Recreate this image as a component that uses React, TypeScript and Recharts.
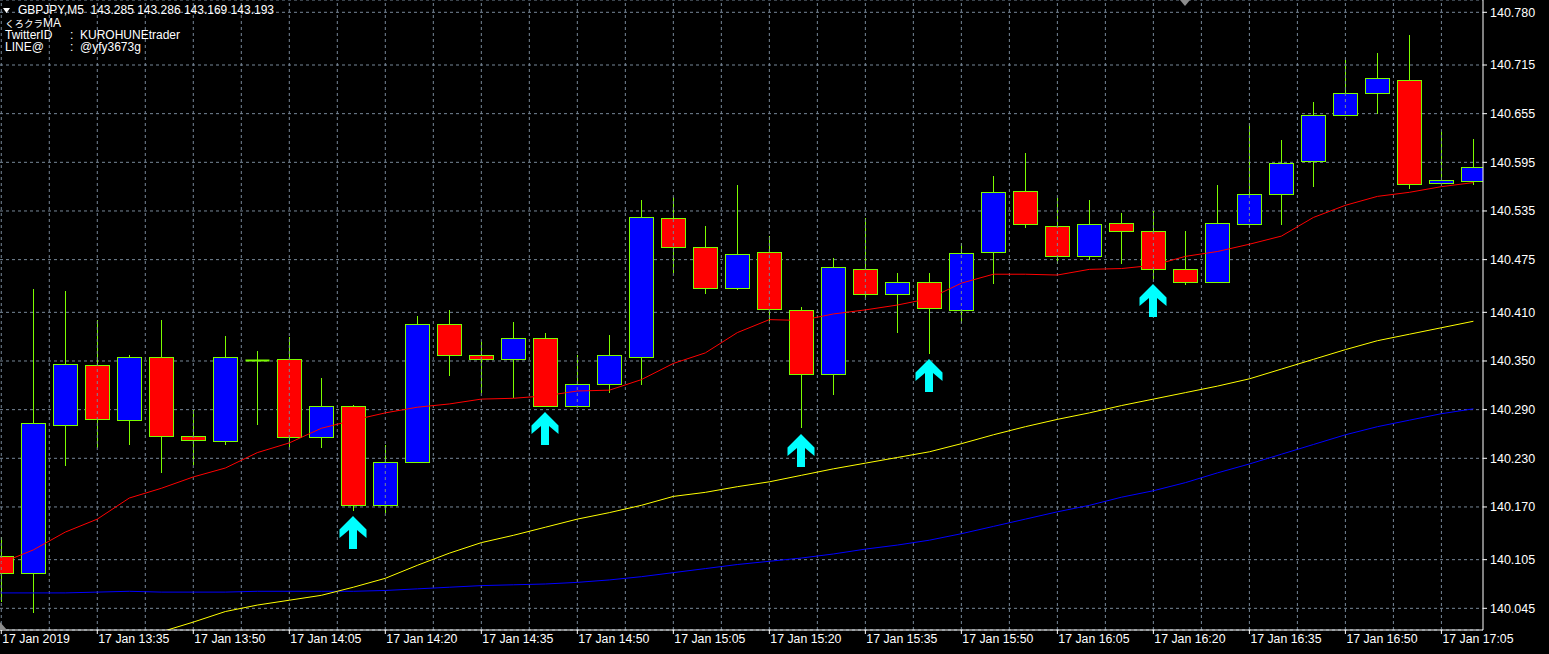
import React from "react";
import { ComposedChart, XAxis, YAxis, CartesianGrid, Line, Bar, Scatter, ReferenceLine } from "recharts";

// GBPJPY M5 candles, 17 Jan 2019 13:20 .. 17:10
const opens = [
  140.110, 140.089, 140.271, 140.345, 140.277, 140.355, 140.257, 140.251, 140.351, 140.353,
  140.256, 140.294, 140.172, 140.226, 140.395, 140.358, 140.352, 140.378, 140.294, 140.322,
  140.355, 140.526, 140.490, 140.440, 140.484, 140.413, 140.334, 140.464, 140.432, 140.448,
  140.413, 140.484, 140.560, 140.517, 140.480, 140.520, 140.510, 140.463, 140.448, 140.519,
  140.556, 140.597, 140.653, 140.680, 140.697, 140.570, 140.572,
];
const highs = [
  140.133, 140.439, 140.436, 140.401, 140.357, 140.401, 140.290, 140.381, 140.362, 140.379,
  140.329, 140.296, 140.246, 140.405, 140.413, 140.373, 140.398, 140.384, 140.357, 140.382,
  140.548, 140.552, 140.516, 140.567, 140.504, 140.417, 140.477, 140.526, 140.458, 140.459,
  140.495, 140.578, 140.606, 140.551, 140.548, 140.533, 140.535, 140.510, 140.567, 140.643,
  140.623, 140.669, 140.721, 140.730, 140.752, 140.632, 140.624,
];
const lows = [
  140.053, 140.039, 140.221, 140.243, 140.247, 140.212, 140.222, 140.246, 140.271, 140.244,
  140.243, 140.165, 140.163, 140.225, 140.331, 140.310, 140.304, 140.293, 140.293, 140.311,
  140.321, 140.458, 140.432, 140.438, 140.399, 140.267, 140.308, 140.428, 140.385, 140.359,
  140.397, 140.445, 140.514, 140.470, 140.475, 140.470, 140.451, 140.444, 140.447, 140.515,
  140.518, 140.564, 140.653, 140.654, 140.562, 140.570, 140.567,
];
const closes = [
  140.089, 140.274, 140.346, 140.279, 140.355, 140.257, 140.253, 140.355, 140.351, 140.256,
  140.295, 140.173, 140.225, 140.395, 140.358, 140.353, 140.378, 140.294, 140.322, 140.357,
  140.527, 140.490, 140.440, 140.482, 140.414, 140.334, 140.466, 140.432, 140.448, 140.415,
  140.483, 140.559, 140.519, 140.480, 140.519, 140.510, 140.464, 140.448, 140.520, 140.556,
  140.594, 140.653, 140.681, 140.699, 140.568, 140.573, 140.589,
];

// moving averages (red / yellow / blue)
const maFast = [
  140.101, 140.117, 140.139, 140.155, 140.181, 140.193, 140.207, 140.218, 140.237, 140.249,
  140.267, 140.277, 140.286, 140.293, 140.297, 140.303, 140.304, 140.307, 140.313, 140.314,
  140.327, 140.347, 140.360, 140.385, 140.401, 140.400, 140.408, 140.413, 140.419, 140.427,
  140.446, 140.457, 140.457, 140.456, 140.463, 140.464, 140.468, 140.479, 140.485, 140.494,
  140.504, 140.527, 140.542, 140.553, 140.558, 140.565, 140.570,
];
const maMid = [
  null, null, null, null, 140.005, 140.016, 140.028, 140.041, 140.049, 140.055,
  140.061, 140.071, 140.082, 140.098, 140.113, 140.126, 140.135, 140.145, 140.155, 140.163,
  140.172, 140.183, 140.188, 140.195, 140.201, 140.209, 140.217, 140.224, 140.231, 140.238,
  140.248, 140.259, 140.269, 140.278, 140.286, 140.295, 140.303, 140.311, 140.319, 140.328,
  140.340, 140.352, 140.364, 140.375, 140.383, 140.391, 140.399,
];
const maSlow = [
  140.064, 140.064, 140.064, 140.065, 140.066, 140.065, 140.065, 140.065, 140.066, 140.066,
  140.066, 140.066, 140.067, 140.069, 140.071, 140.073, 140.074, 140.075, 140.077, 140.080,
  140.084, 140.089, 140.094, 140.099, 140.103, 140.107, 140.112, 140.118, 140.123, 140.129,
  140.137, 140.146, 140.155, 140.164, 140.172, 140.182, 140.190, 140.200, 140.212, 140.223,
  140.235, 140.247, 140.259, 140.269, 140.277, 140.285, 140.291,
];

// signal arrows
const arrowIdx = [11, 17, 25, 29, 36];
const arrowPrice = [140.159, 140.287, 140.260, 140.352, 140.445];

// axes
const timeTicks = [0, 3, 6, 9, 12, 15, 18, 21, 24, 27, 30, 33, 36, 39, 42, 45];
const timeLabels = [
  "17 Jan 2019", "17 Jan 13:35", "17 Jan 13:50", "17 Jan 14:05", "17 Jan 14:20", "17 Jan 14:35",
  "17 Jan 14:50", "17 Jan 15:05", "17 Jan 15:20", "17 Jan 15:35", "17 Jan 15:50", "17 Jan 16:05",
  "17 Jan 16:20", "17 Jan 16:35", "17 Jan 16:50", "17 Jan 17:05",
];
const priceTicks = [
  140.045, 140.105, 140.17, 140.23, 140.29, 140.35, 140.41, 140.475, 140.535, 140.595, 140.655, 140.715, 140.78,
];
const gridX = [
  0, 1.5, 3, 4.5, 6, 7.5, 9, 10.5, 12, 13.5, 15, 16.5, 18, 19.5, 21, 22.5, 24, 25.5, 27, 28.5,
  30, 31.5, 33, 34.5, 36, 37.5, 39, 40.5, 42, 43.5, 45,
];

const rows = opens.map((o, i) => ({
  i,
  open: o,
  high: highs[i],
  low: lows[i],
  close: closes[i],
  maFast: maFast[i],
  maMid: maMid[i],
  maSlow: maSlow[i],
}));
const arrows = arrowIdx.map((i, k) => ({ i, price: arrowPrice[k] }));

const GREEN = "#7CFC00";
const GRID = "#778899";
const FONT = "'Liberation Sans', Arial, 'Noto Sans CJK JP', sans-serif";

const Candle = (props: any) => {
  const { x, y, width, height, payload } = props;
  if (height == null || !payload) return null;
  const { open, close, high, low } = payload;
  const k = height / (high - low);
  const cx = Math.round(x + width / 2);
  const yO = y + (high - open) * k;
  const yC = y + (high - close) * k;
  const top = Math.round(Math.min(yO, yC)) + 0.5;
  const bot = Math.round(Math.max(yO, yC)) + 0.5;
  const up = close >= open;
  return (
    <g>
      <line x1={cx + 0.5} x2={cx + 0.5} y1={Math.round(y)} y2={Math.round(y + height)} stroke={GREEN} />
      {bot - top < 1 ? (
        <line x1={cx - 11.5} x2={cx + 12.5} y1={top} y2={top} stroke={GREEN} strokeWidth={2} />
      ) : (
        <rect x={cx - 11.5} y={top} width={24} height={bot - top} fill={up ? "#0000FF" : "#FF0000"} stroke={GREEN} />
      )}
    </g>
  );
};

const Arrow = (props: any) => {
  const x = Math.round(props.cx);
  const y = Math.round(props.cy);
  const pts = [
    [0, 0], [13.5, 13.5], [13.5, 22], [4, 14], [4, 33], [-4, 33], [-4, 14], [-13.5, 22], [-13.5, 13.5],
  ];
  return <polygon points={pts.map(([dx, dy]) => `${x + dx},${y + dy}`).join(" ")} fill="#00FFFF" />;
};

const TimeTick = (props: any) => {
  const { x, y, payload } = props;
  const idx = timeTicks.indexOf(payload.value);
  return (
    <text x={x + 1} y={y + 9} fill="#FFFFFF" fontSize={12.3} fontFamily={FONT} textAnchor="start">
      {timeLabels[idx]}
    </text>
  );
};

const headerLine = { position: "absolute" as const, color: "#fff", fontSize: 12, lineHeight: "13px", whiteSpace: "pre" as const };

export default function App() {
  return (
    <div style={{ position: "relative", width: 1549, height: 654, background: "#000", fontFamily: FONT }}>
      <style>{`body{margin:0;background:#000}`}</style>
      <ComposedChart width={1549} height={654} data={rows} margin={{ top: 0, right: 0, bottom: 0, left: 0 }}>
        <CartesianGrid vertical={false} stroke={GRID} strokeDasharray="3 3" />
        {gridX.map((g) => (
          <ReferenceLine key={g} x={g} stroke={GRID} strokeDasharray="3 3" />
        ))}
        <XAxis
          type="number"
          dataKey="i"
          domain={[-0.04, 46.3]}
          allowDataOverflow
          ticks={timeTicks}
          interval={0}
          height={24}
          tickSize={4}
          tickMargin={0}
          axisLine={{ stroke: "#FFFFFF" }}
          tickLine={{ stroke: "#FFFFFF" }}
          tick={<TimeTick />}
        />
        <YAxis
          type="number"
          orientation="right"
          domain={[140.01826, 140.79517]}
          allowDataOverflow
          ticks={priceTicks}
          interval={0}
          width={66}
          tickSize={4}
          tickMargin={3}
          axisLine={{ stroke: "#FFFFFF" }}
          tickLine={{ stroke: "#FFFFFF" }}
          tick={{ fill: "#FFFFFF", fontSize: 12.5, fontFamily: FONT }}
          tickFormatter={(v: number) => v.toFixed(3)}
        />
        <Line dataKey="maSlow" stroke="#0000FF" strokeWidth={1} dot={false} activeDot={false} isAnimationActive={false} />
        <Line dataKey="maMid" stroke="#FFFF00" strokeWidth={1} dot={false} activeDot={false} isAnimationActive={false} />
        <Line dataKey="maFast" stroke="#FF0000" strokeWidth={1} dot={false} activeDot={false} isAnimationActive={false} />
        <Bar dataKey={(d: any) => [d.low, d.high]} barSize={24} shape={<Candle />} activeBar={false} isAnimationActive={false} />
        <Scatter data={arrows} dataKey="price" shape={<Arrow />} activeShape={<Arrow />} isAnimationActive={false} />
      </ComposedChart>

      {/* header */}
      <svg style={{ position: "absolute", left: 3, top: 8 }} width={8} height={6}>
        <polygon points="0,0 7,0 3.5,5" fill="#FFFFFF" />
      </svg>
      <div style={{ ...headerLine, left: 18, top: 4 }}>GBPJPY,M5  143.285 143.286 143.169 143.193</div>
      <div style={{ ...headerLine, left: 5, top: 17 }}>
        <span style={{ fontSize: 9.5 }}>くろクラ</span>MA
      </div>
      <div style={{ ...headerLine, left: 5, top: 29 }}>TwitterID</div>
      <div style={{ ...headerLine, left: 70, top: 29 }}>:  KUROHUNEtrader</div>
      <div style={{ ...headerLine, left: 5, top: 41 }}>LINE@</div>
      <div style={{ ...headerLine, left: 70, top: 41 }}>:  @yfy3673g</div>

      {/* chart shift marker + scroll marker */}
      <svg style={{ position: "absolute", left: 1180, top: 0 }} width={11} height={7}>
        <polygon points="0,0 10,0 5,6" fill="#8C8C8C" />
      </svg>
      <svg style={{ position: "absolute", left: 0, top: 622 }} width={8} height={9}>
        <polygon points="0,0 7,8 0,8" fill="#8C8C8C" />
      </svg>
    </div>
  );
}
